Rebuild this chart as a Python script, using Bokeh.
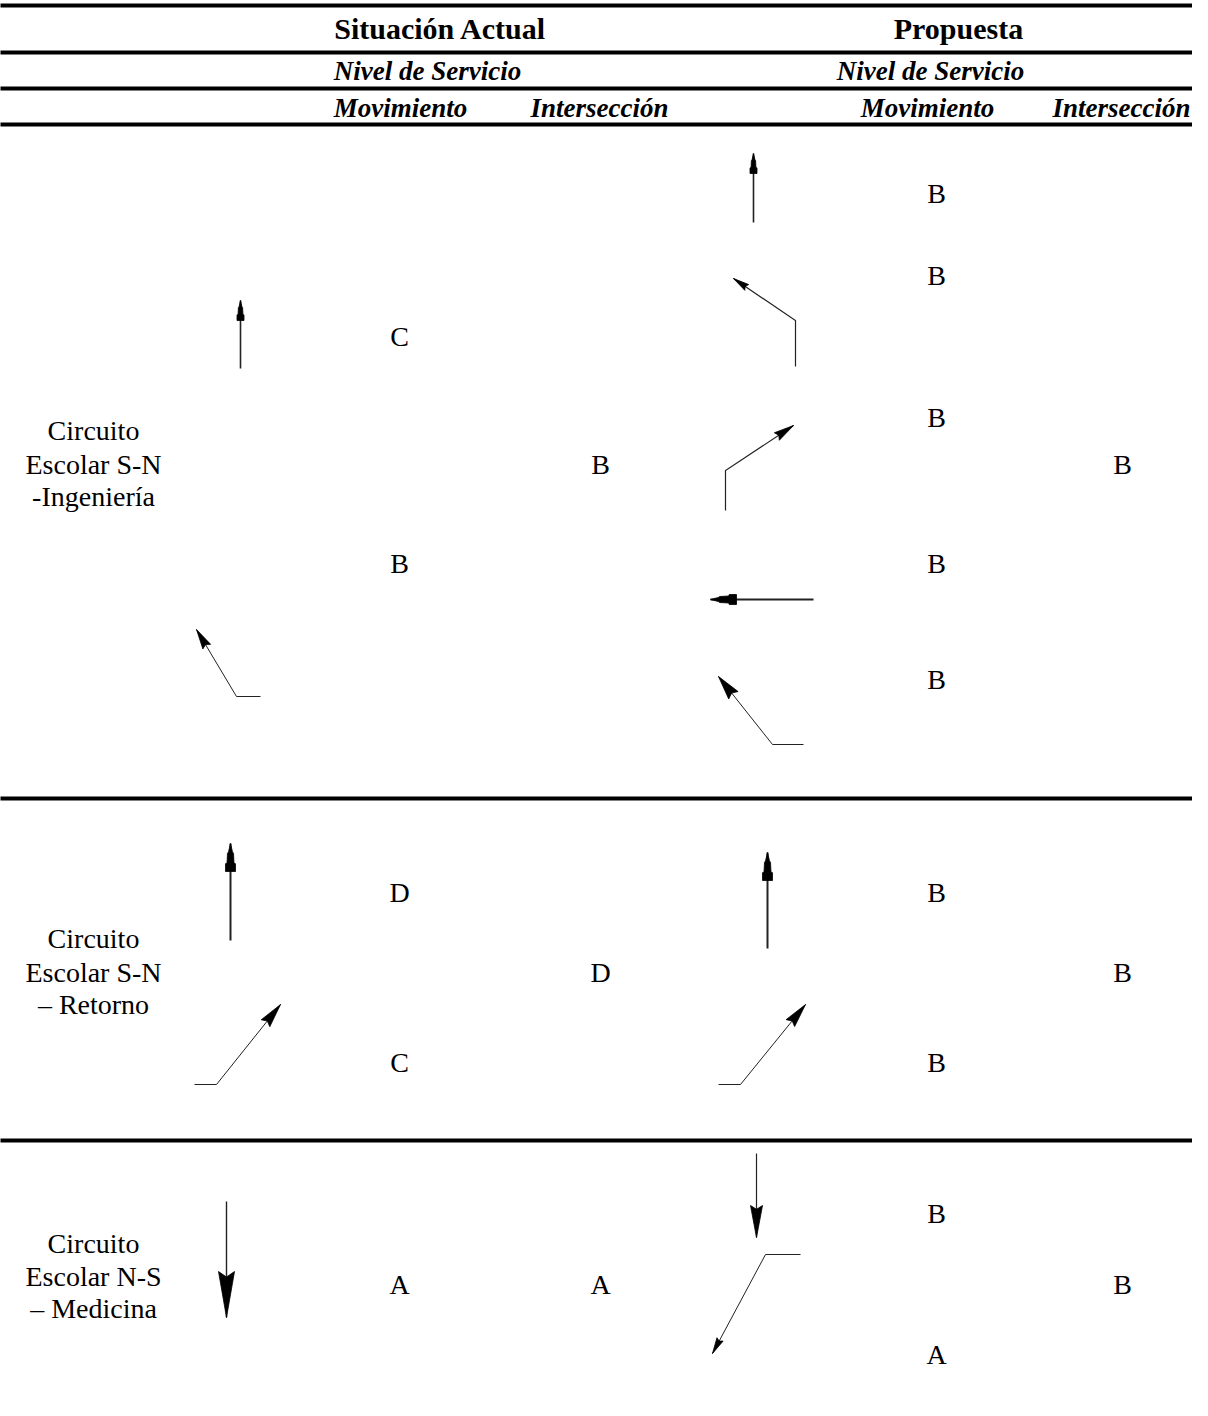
from bokeh.plotting import figure
from bokeh.models import Range1d, ColumnDataSource
from bokeh.core.properties import value
from bokeh.embed import file_html
from bokeh.resources import INLINE
import math

# ---------------- data ----------------
group_titles = ["Situación Actual", "Propuesta"]
sub_titles = ["Nivel de Servicio", "Nivel de Servicio"]
col_titles = ["Movimiento", "Intersección", "Movimiento", "Intersección"]

section_labels = [
    ["Circuito", "Escolar S-N", "-Ingeniería"],
    ["Circuito", "Escolar S-N", "– Retorno"],
    ["Circuito", "Escolar N-S", "– Medicina"],
]
actual_mov_los = [["C", "B"], ["D", "C"], ["A"]]
actual_int_los = ["B", "D", "A"]
prop_mov_los = [["B", "B", "B", "B", "B"], ["B", "B"], ["B", "A"]]
prop_int_los = ["B", "B", "B"]

# ---------------- layout ----------------
W, H = 1192, 1400
FONT = "Liberation Serif"

group_x = [440, 958]
group_y = 28
sub_x = [427, 930]
sub_y = 70
col_x = [400, 599, 927, 1121]
col_y = 107
rule_y = [5, 52, 88, 124, 798, 1140]

label_x = 93
label_y = [[430, 464, 496], [938, 972, 1004], [1243, 1276, 1308]]
act_mov_x, act_int_x, prop_mov_x, prop_int_x = 399, 600, 936, 1122
act_mov_y = [[336, 563], [892, 1062], [1284]]
act_int_y = [464, 972, 1284]
prop_mov_y = [[193, 275, 417, 563, 679], [892, 1062], [1213, 1354]]
prop_int_y = [464, 972, 1284]

# arrow sketches: (path from tail to tip, head style, head length, head width, stem width)
arrows = [
    ([(240, 368), (240, 300)], "stack", 20, 7, 1.6),
    ([(260, 696), (236, 696), (196, 629)], "tri", 20, 9, 1.0),
    ([(753, 222), (753, 153)], "stack", 20, 7, 1.6),
    ([(795, 366), (795, 320), (733, 278)], "tri", 16, 7, 1.2),
    ([(725, 510), (725, 470), (793, 425)], "tri", 20, 9, 1.2),
    ([(813, 599), (710, 599)], "stack", 26, 10, 2.2),
    ([(803, 744), (772, 744), (718, 676)], "tri", 24, 12, 1.0),
    ([(230, 940), (230, 843)], "stack", 28, 10, 2.0),
    ([(194, 1084), (216, 1084), (280, 1004)], "tri", 24, 11, 1.0),
    ([(767, 948), (767, 852)], "stack", 28, 10, 2.0),
    ([(718, 1084), (740, 1084), (805, 1004)], "tri", 24, 11, 1.0),
    ([(226, 1201), (226, 1317)], "tri", 46, 16, 1.4),
    ([(756, 1153), (756, 1237)], "tri", 32, 12, 1.2),
    ([(800, 1254), (765, 1254), (712, 1353)], "tri", 16, 7, 1.0),
]

# ---------------- figure ----------------
p = figure(width=W, height=H, x_range=Range1d(0, W), y_range=Range1d(H, 0),
           output_backend="svg", toolbar_location=None, min_border=0)
p.axis.visible = False
p.grid.visible = False
p.outline_line_color = None
p.background_fill_color = "white"
p.border_fill_color = "white"

# horizontal rules
p.segment(x0=[-5] * len(rule_y), x1=[W + 5] * len(rule_y), y0=rule_y, y1=rule_y,
          line_color="black", line_width=4)


def put_text(xs, ys, texts, size, style):
    src = ColumnDataSource(dict(x=xs, y=ys, t=texts))
    p.text(x="x", y="y", text="t", source=src, text_font=value(FONT),
           text_font_size=f"{size}px", text_font_style=style,
           text_align="center", text_baseline="middle", text_color="black")


put_text(group_x, [group_y] * 2, group_titles, 30, "bold")
put_text(sub_x, [sub_y] * 2, sub_titles, 27, "bold italic")
put_text(col_x, [col_y] * 4, col_titles, 27, "bold italic")

tx, ty, tt = [], [], []
for i, lines in enumerate(section_labels):
    for j, line in enumerate(lines):
        tx.append(label_x); ty.append(label_y[i][j]); tt.append(line)
for i in range(3):
    for j, l in enumerate(actual_mov_los[i]):
        tx.append(act_mov_x); ty.append(act_mov_y[i][j]); tt.append(l)
    tx.append(act_int_x); ty.append(act_int_y[i]); tt.append(actual_int_los[i])
    for j, l in enumerate(prop_mov_los[i]):
        tx.append(prop_mov_x); ty.append(prop_mov_y[i][j]); tt.append(l)
    tx.append(prop_int_x); ty.append(prop_int_y[i]); tt.append(prop_int_los[i])
put_text(tx, ty, tt, 28, "normal")

# arrows
head_xs, head_ys = [], []
for path, style, L, Wd, lw in arrows:
    xs = [q[0] for q in path]
    ys = [q[1] for q in path]
    p.line(xs, ys, line_color="#222222", line_width=lw, line_join="miter")
    (x0, y0), (x1, y1) = path[-2], path[-1]
    d = math.hypot(x1 - x0, y1 - y0)
    ux, uy = (x1 - x0) / d, (y1 - y0) / d
    nx, ny = -uy, ux
    if style == "tri":
        local = [(0, 0), (L, Wd / 2), (0.88 * L, 0), (L, -Wd / 2)]
    else:
        local = [(0, 0), (0.3 * L, Wd * 0.2), (0.35 * L, Wd * 0.3), (0.7 * L, Wd * 0.35),
                 (0.72 * L, Wd / 2), (L, Wd / 2), (L, -Wd / 2), (0.72 * L, -Wd / 2),
                 (0.7 * L, -Wd * 0.35), (0.35 * L, -Wd * 0.3), (0.3 * L, -Wd * 0.2)]
    head_xs.append([x1 - a * ux + b * nx for a, b in local])
    head_ys.append([y1 - a * uy + b * ny for a, b in local])

p.patches(head_xs, head_ys, fill_color="black", line_color="black", line_width=0.8)

open("out.html", "w").write(file_html(p, INLINE))
